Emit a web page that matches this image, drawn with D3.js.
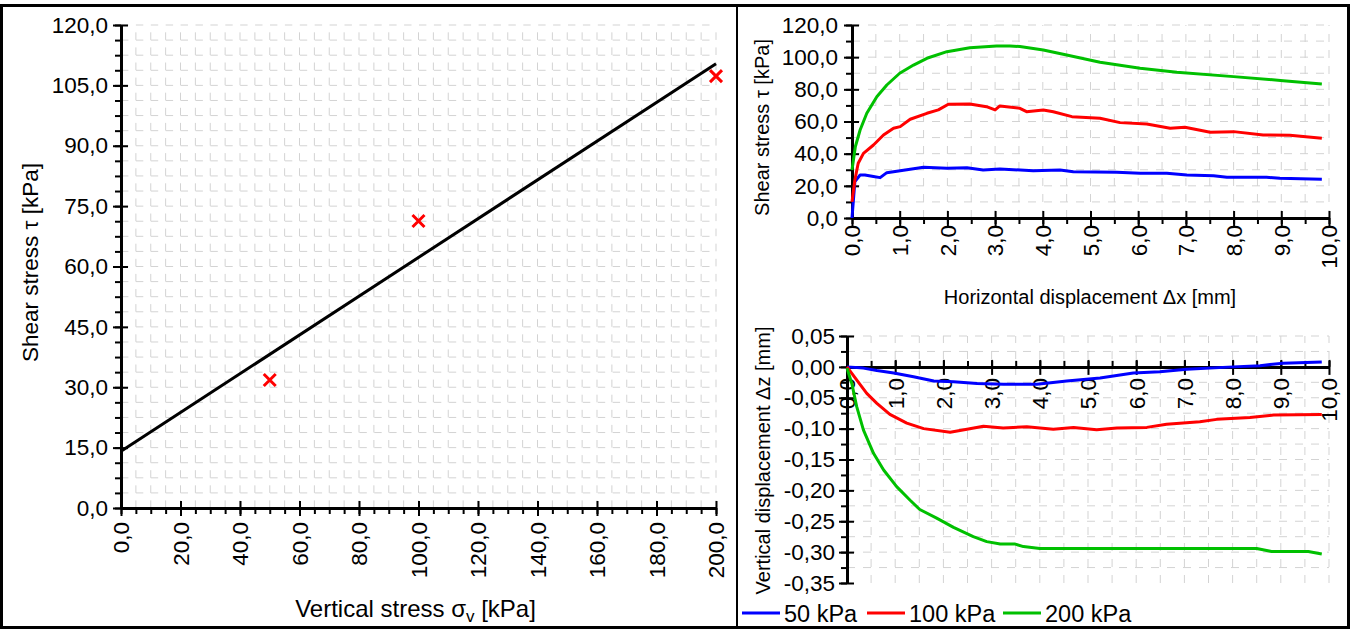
<!DOCTYPE html>
<html>
<head>
<meta charset="utf-8">
<script src="https://cdn.jsdelivr.net/npm/d3@7"></script>
<style>
  body { margin: 0; background: #fff; }
  svg { font-family: "Liberation Sans", Arial, sans-serif; }
</style>
</head>
<body>
<svg id="chart" width="1353" height="630"></svg>
<script>
// ---- data ----
// failure envelope (left)
const sigmaV = [50, 100, 200];
const tauPeak = [31.8, 71.3, 107.3];
const fitSigma = [0, 200];
const fitTau = [14.1, 110.4];

const loads = ["50 kPa", "100 kPa", "200 kPa"];
const loadColors = ["#0000ff", "#ff0000", "#00c000"];

// shear stress vs horizontal displacement [dx mm, tau kPa]
const shear50 = [[0, 0], [0.03, 11.2], [0.06, 22.6], [0.17, 26.7], [0.27, 26.7], [0.45, 25.8], [0.59, 25.1],
  [0.73, 28.2], [1.01, 29.4], [1.5, 31.5], [1.99, 30.9], [2.41, 31.3], [2.75, 29.9], [3.1, 30.5], [3.8, 29.4],
  [4.36, 29.9], [4.64, 28.8], [5.55, 28.4], [6.04, 27.8], [6.6, 27.8], [7.02, 26.7], [7.58, 26.3], [7.86, 25.3],
  [8.69, 25.3], [8.97, 24.7], [9.85, 24.1]];
const shear100 = [[0, 10], [0.06, 23.6], [0.13, 34], [0.24, 40.2], [0.45, 45.4], [0.66, 51.6], [0.87, 55.8],
  [1.01, 56.8], [1.22, 61.4], [1.57, 65.1], [1.81, 67.2], [2.02, 70.7], [2.47, 70.9], [2.82, 69.2], [3.0, 67.2],
  [3.1, 69.7], [3.52, 68.2], [3.66, 66.1], [4.01, 67.2], [4.22, 66.1], [4.61, 63.0], [5.2, 62.0], [5.62, 59.3],
  [6.18, 58.5], [6.67, 55.8], [6.98, 56.4], [7.51, 53.3], [8.0, 53.7], [8.62, 51.6], [9.18, 51.4], [9.85, 49.6]];
const shear200 = [[0, 29.8], [0.07, 44.3], [0.17, 54.7], [0.31, 65.1], [0.52, 75.4], [0.73, 82.7], [1.0, 90.0],
  [1.29, 95.1], [1.57, 99.3], [1.99, 103.4], [2.47, 105.9], [3.03, 107.0], [3.31, 107.0], [3.52, 106.6],
  [4.01, 104.5], [4.5, 101.4], [5.2, 96.8], [6.04, 93.1], [6.81, 90.6], [8.0, 87.9], [9.04, 85.4], [9.85, 83.3]];

// vertical displacement vs horizontal displacement [dx mm, dz mm]
const disp50 = [[0, 0], [0.34, -0.002], [0.62, -0.006], [0.97, -0.010], [1.38, -0.016], [1.8, -0.023],
  [2.21, -0.024], [2.7, -0.027], [3.25, -0.028], [3.94, -0.028], [4.56, -0.023], [5.25, -0.018], [5.94, -0.010],
  [6.49, -0.008], [7.05, -0.004], [8.01, 0.0], [8.57, 0.002], [9.05, 0.006], [9.85, 0.008]];
const disp100 = [[0, 0], [0.2, -0.021], [0.41, -0.043], [0.62, -0.059], [0.89, -0.077], [1.24, -0.091],
  [1.59, -0.100], [2.14, -0.106], [2.49, -0.101], [2.83, -0.096], [3.24, -0.099], [3.73, -0.097], [4.28, -0.101],
  [4.7, -0.098], [5.18, -0.102], [5.6, -0.099], [6.22, -0.098], [6.63, -0.093], [7.32, -0.089], [7.67, -0.085],
  [8.36, -0.082], [8.85, -0.078], [9.85, -0.077]];
const disp200 = [[0, -0.002], [0.1, -0.027], [0.2, -0.064], [0.34, -0.102], [0.55, -0.14], [0.76, -0.167],
  [1.03, -0.194], [1.31, -0.216], [1.51, -0.231], [1.86, -0.245], [2.21, -0.26], [2.62, -0.275], [2.9, -0.283],
  [3.18, -0.287], [3.49, -0.287], [3.66, -0.291], [4.0, -0.294], [5.25, -0.294], [6.63, -0.294], [8.5, -0.294],
  [8.81, -0.299], [9.57, -0.299], [9.85, -0.303]];

// ---- helpers ----
const loc = d3.formatLocale({ decimal: ",", thousands: ".", grouping: [3], currency: ["", ""], minus: "-" });
const f1 = loc.format(".1f");
const f2 = loc.format(".2f");

const svg = d3.select("#chart");
const GRID = "#d3d3d3";

function panel(o) {
  const g = svg.append("g");
  const x = o.x, y = o.y;
  const [x0, x1] = x.range();
  const [yb, yt] = y.range();

  // dashed grid
  g.append("g").selectAll("line").data(o.yGrid).join("line")
    .attr("x1", x0).attr("x2", x1)
    .attr("y1", (d) => y(d)).attr("y2", (d) => y(d))
    .attr("stroke", GRID).attr("stroke-width", 1).attr("stroke-dasharray", o.dashX);
  g.append("g").selectAll("line").data(o.xGrid).join("line")
    .attr("y1", yb).attr("y2", yt)
    .attr("x1", (d) => x(d)).attr("x2", (d) => x(d))
    .attr("stroke", GRID).attr("stroke-width", 1).attr("stroke-dasharray", o.dashY);

  const axisY = y(o.xAxisAt);

  // y axis
  const gyMin = g.append("g").attr("transform", `translate(${x0},0)`)
    .call(d3.axisLeft(y).tickValues(o.yMinor).tickSize(6).tickSizeOuter(0).tickFormat(""));
  gyMin.select(".domain").remove();
  const gyIn = g.append("g").attr("transform", `translate(${x0},0)`)
    .call(d3.axisRight(y).tickValues(o.yMajor).tickSize(7).tickSizeOuter(0).tickFormat(""));
  gyIn.select(".domain").remove();
  const gy = g.append("g").attr("transform", `translate(${x0},0)`)
    .call(d3.axisLeft(y).tickValues(o.yMajor).tickSize(8).tickSizeOuter(0).tickPadding(o.yPad).tickFormat(o.yFmt));

  // x axis
  const gxMin = g.append("g").attr("transform", `translate(0,${axisY})`)
    .call((o.minorUp ? d3.axisTop(x) : d3.axisBottom(x)).tickValues(o.xMinor).tickSize(6).tickSizeOuter(0).tickFormat(""));
  gxMin.select(".domain").remove();
  const gxIn = g.append("g").attr("transform", `translate(0,${axisY})`)
    .call(d3.axisTop(x).tickValues(o.xMajor).tickSize(7).tickSizeOuter(0).tickFormat(""));
  gxIn.select(".domain").remove();
  const gx = g.append("g").attr("transform", `translate(0,${axisY})`)
    .call(d3.axisBottom(x).tickValues(o.xMajor).tickSize(8).tickSizeOuter(0).tickFormat(o.xFmt));
  gx.selectAll(".tick text")
    .attr("transform", "rotate(-90)")
    .attr("text-anchor", "end")
    .attr("x", -o.xPad).attr("y", 0).attr("dy", "0.35em");

  [gyMin, gyIn, gy, gxMin, gxIn, gx].forEach((a) => {
    a.attr("font-family", null).attr("font-size", null);
    a.selectAll(".tick line").attr("stroke", "#000").attr("stroke-width", 2);
    a.selectAll(".tick text").attr("fill", "#000").style("font-size", "22.5px");
  });
  [gy, gx].forEach((a) => a.select(".domain").attr("stroke", "#000").attr("stroke-width", 3));

  return g;
}

// ---- left: failure envelope ----
const xL = d3.scaleLinear().domain([0, 200]).range([121, 716]);
const yL = d3.scaleLinear().domain([0, 120]).range([508, 25]);
const gL = panel({
  x: xL, y: yL, xAxisAt: 0,
  xMajor: d3.range(0, 201, 20), xMinor: d3.range(0, 201, 5), xGrid: d3.range(5, 201, 5),
  yMajor: d3.range(0, 121, 15), yMinor: d3.range(0, 120.1, 3.75), yGrid: d3.range(3.75, 120.1, 3.75),
  xFmt: f1, yFmt: f1, xPad: 14, yPad: 5, dashX: "7.4,7.5", dashY: "7.6,7.5"
});

gL.append("line")
  .attr("x1", xL(fitSigma[0])).attr("y1", yL(fitTau[0]))
  .attr("x2", xL(fitSigma[1])).attr("y2", yL(fitTau[1]))
  .attr("stroke", "#000").attr("stroke-width", 3);

const marks = gL.append("g").selectAll("g").data(sigmaV).join("g")
  .attr("transform", (d, i) => `translate(${xL(d)},${yL(tauPeak[i])})`);
marks.append("path")
  .attr("d", "M-6,-6L6,6M-6,6L6,-6")
  .attr("stroke", "#ff0000").attr("stroke-width", 3).attr("fill", "none");

gL.append("text")
  .attr("transform", "translate(30,262.5) rotate(-90)")
  .attr("text-anchor", "middle").attr("dominant-baseline", "central")
  .style("font-size", "22.5px")
  .text("Shear stress τ [kPa]");
const xt = gL.append("text")
  .attr("x", 415.5).attr("y", 617)
  .attr("text-anchor", "middle")
  .style("font-size", "24px");
xt.append("tspan").text("Vertical stress σ");
xt.append("tspan").attr("dy", 5).style("font-size", "17px").text("v");
xt.append("tspan").attr("dy", -5).text(" [kPa]");

// ---- top right: shear stress curves ----
const xT = d3.scaleLinear().domain([0, 10]).range([852, 1329]);
const yT = d3.scaleLinear().domain([0, 120]).range([218, 25]);
const gT = panel({
  x: xT, y: yT, xAxisAt: 0,
  xMajor: d3.range(0, 10.01, 1), xMinor: d3.range(0, 10.01, 0.5), xGrid: d3.range(0.5, 10.01, 0.5),
  yMajor: d3.range(0, 121, 20), yMinor: d3.range(0, 121, 10), yGrid: d3.range(10, 121, 10),
  xFmt: f1, yFmt: f1, xPad: 7, yPad: 6, dashX: "8,8", dashY: "8,8"
});
const lineT = d3.line().x((d) => xT(d[0])).y((d) => yT(d[1]));
gT.append("g").selectAll("path").data([shear50, shear100, shear200]).join("path")
  .attr("d", lineT).attr("fill", "none")
  .attr("stroke", (d, i) => loadColors[i]).attr("stroke-width", 3).attr("stroke-linejoin", "round");
gT.append("text")
  .attr("transform", "translate(762,127.5) rotate(-90)")
  .attr("text-anchor", "middle").attr("dominant-baseline", "central")
  .style("font-size", "20px")
  .text("Shear stress τ [kPa]");
gT.append("text")
  .attr("x", 1090).attr("y", 304).attr("text-anchor", "middle")
  .style("font-size", "20px")
  .text("Horizontal displacement Δx [mm]");

// ---- bottom right: vertical displacement curves ----
const xB = d3.scaleLinear().domain([0, 10]).range([847, 1329]);
const yB = d3.scaleLinear().domain([-0.35, 0.05]).range([583, 336]);
const gB = panel({
  x: xB, y: yB, xAxisAt: 0, minorUp: true,
  xMajor: d3.range(0, 10.01, 1), xMinor: d3.range(0, 10.01, 0.5), xGrid: d3.range(0.5, 10.01, 0.5),
  yMajor: d3.range(-0.35, 0.051, 0.05), yMinor: d3.range(-0.35, 0.051, 0.025), yGrid: d3.range(-0.325, 0.051, 0.025),
  xFmt: f1, yFmt: f2, xPad: 11, yPad: 4, dashX: "8,8", dashY: "8,8"
});
const lineB = d3.line().x((d) => xB(d[0])).y((d) => yB(d[1]));
gB.append("g").selectAll("path").data([disp50, disp100, disp200]).join("path")
  .attr("d", lineB).attr("fill", "none")
  .attr("stroke", (d, i) => loadColors[i]).attr("stroke-width", 3).attr("stroke-linejoin", "round");
gB.append("text")
  .attr("transform", "translate(763,460.5) rotate(-90)")
  .attr("text-anchor", "middle").attr("dominant-baseline", "central")
  .style("font-size", "20px")
  .text("Vertical displacement Δz [mm]");

// legend
const legendX = [742, 867, 1003];
const leg = svg.append("g").selectAll("g").data(loads).join("g")
  .attr("transform", (d, i) => `translate(${legendX[i]},613)`);
leg.append("line").attr("x1", 0).attr("x2", 38).attr("stroke", (d, i) => loadColors[i]).attr("stroke-width", 3);
leg.append("text").attr("x", 42).attr("y", 1).attr("dominant-baseline", "central")
  .style("font-size", "23.5px").text((d) => d);

// frame
svg.append("rect").attr("x", 1.5).attr("y", 5.5).attr("width", 1347).attr("height", 622)
  .attr("fill", "none").attr("stroke", "#000").attr("stroke-width", 3);
svg.append("line").attr("x1", 737).attr("x2", 737).attr("y1", 5).attr("y2", 628)
  .attr("stroke", "#000").attr("stroke-width", 2);
</script>
</body>
</html>
